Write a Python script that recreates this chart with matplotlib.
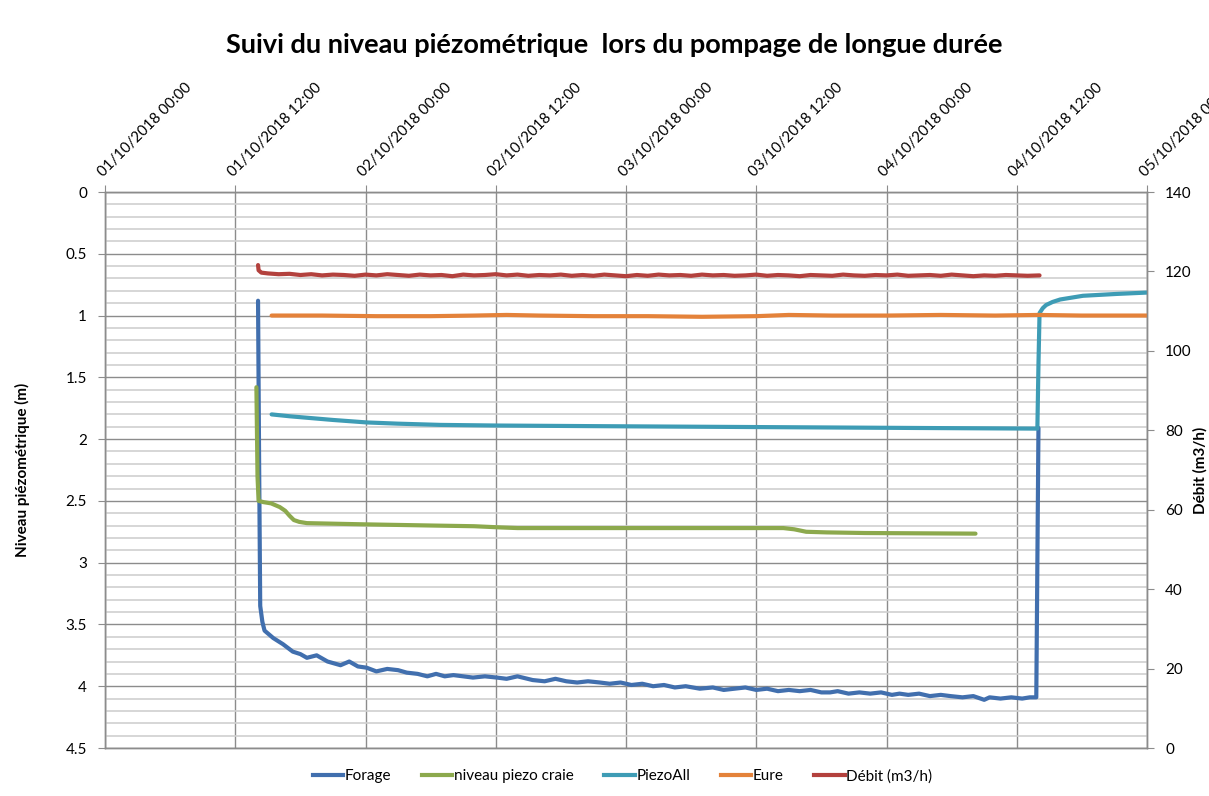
import matplotlib
matplotlib.use("Agg")
import matplotlib.pyplot as plt
from matplotlib.ticker import MultipleLocator, FixedLocator, FixedFormatter
from matplotlib.lines import Line2D

plt.rcParams['font.family'] = ['Lato', 'DejaVu Sans']

# heures depuis le 01/10/2018 00:00
forage_h = [14.1, 14.2, 14.3, 14.5, 14.7, 15.5, 16.4, 17.3, 18.0, 18.6, 19.5, 20.5, 21.7, 22.5,
            23.3, 24.1, 25.0, 26, 27, 27.8, 28.8, 29.7, 30.5, 31.3, 32.1, 33, 33.9, 35, 36.1, 37,
            38, 39.4, 40.5, 41.5, 42.5, 43.5, 44.5, 45.6, 46.5, 47.5, 48.5, 49.5, 50.5, 51.5, 52.5,
            53.5, 54.8, 56, 57, 58, 59, 60, 61, 62, 63, 64, 65, 66, 66.8, 67.5, 68.5, 69.5, 70.5,
            71.5, 72.5, 73.2, 74, 75, 76, 77, 77.9, 79, 80, 81, 81.5, 82.5, 83.5, 84.5, 85.2, 85.8,
            86.0]
forage = [0.88, 2.2, 3.35, 3.48, 3.55, 3.61, 3.66, 3.72, 3.74, 3.77, 3.75, 3.80, 3.83, 3.80,
          3.84, 3.85, 3.88, 3.86, 3.87, 3.89, 3.90, 3.92, 3.90, 3.92, 3.91, 3.92, 3.93, 3.92, 3.93, 3.94,
          3.92, 3.95, 3.96, 3.94, 3.96, 3.97, 3.96, 3.97, 3.98, 3.97, 3.99, 3.98, 4.00, 3.99, 4.01,
          4.00, 4.02, 4.01, 4.03, 4.02, 4.01, 4.03, 4.02, 4.04, 4.03, 4.04, 4.03, 4.05, 4.05, 4.04, 4.06, 4.05, 4.06,
          4.05, 4.07, 4.06, 4.07, 4.06, 4.08, 4.07, 4.08, 4.09, 4.08, 4.11, 4.09, 4.10, 4.09, 4.10, 4.09, 4.09,
          1.91]

craie_h = [13.95, 14.05, 14.15, 14.6, 15.3, 16.1, 16.6, 17.0, 17.4, 17.9, 18.6, 24, 30.5, 34, 36.5,
           38, 50, 62.5, 63.5, 64.6, 66.5, 70, 80.2]
craie = [1.58, 2.3, 2.5, 2.51, 2.52, 2.55, 2.58, 2.62, 2.655, 2.67, 2.68, 2.69, 2.70, 2.705, 2.715,
         2.72, 2.72, 2.72, 2.73, 2.75, 2.755, 2.76, 2.765]

piezoall_h = [15.35, 17, 19, 21, 24.1, 27, 30.9, 36, 45, 55, 65, 75, 85.9, 86.0, 86.1, 86.4,
              86.7, 87.3, 88, 90.1, 93.2, 96]
piezoall = [1.80, 1.815, 1.83, 1.845, 1.865, 1.875, 1.885, 1.89, 1.895, 1.90, 1.905, 1.91, 1.915,
            1.4, 0.98, 0.94, 0.915, 0.89, 0.87, 0.84, 0.825, 0.814]

eure_h = [15.35, 20, 25, 30, 34, 37, 40, 45, 50, 55, 60, 63, 67, 72, 77, 82, 86, 90, 96]
eure = [1.0, 1.0, 1.005, 1.005, 1.0, 0.995, 1.0, 1.005, 1.005, 1.01, 1.005, 0.995, 1.0, 1.0,
        0.995, 1.0, 0.995, 1.0, 1.0]

debit_h = [14.1, 14.15, 14.4, 15, 16, 17, 18, 19, 20, 21, 22, 23, 24, 25, 26, 27, 28, 29, 30, 31,
           32, 33, 34, 35, 36, 37, 38, 39, 40, 41, 42, 43, 44, 45, 46, 47, 48, 49, 50, 51, 52, 53,
           54, 55, 56, 57, 58, 59, 60, 61, 62, 63, 64, 65, 66, 67, 68, 69, 70, 71, 72, 73, 74, 75,
           76, 77, 78, 79, 80, 81, 82, 83, 84, 85, 86.1]
debit = [121.6, 120.3, 119.7, 119.5, 119.3, 119.4, 119.1, 119.3, 119.0, 119.2, 119.1, 118.9, 119.2,
         119.0, 119.3, 119.1, 118.9, 119.2, 119.0, 119.1, 118.8, 119.2, 119.0, 119.1, 119.3, 119.0,
         119.2, 118.9, 119.1, 119.0, 119.2, 118.9, 119.1, 118.9, 119.2, 119.0, 118.8, 119.1, 118.9,
         119.2, 119.0, 119.1, 118.9, 119.2, 119.0, 119.1, 118.9, 119.0, 119.2, 118.9, 119.1, 119.0,
         118.8, 119.1, 119.0, 118.9, 119.2, 119.0, 118.9, 119.1, 119.0, 119.2, 118.9, 119.0, 119.1,
         118.9, 119.2, 119.0, 118.8, 119.0, 118.9, 119.1, 119.0, 118.9, 119.0]

xtick_h = [0, 12, 24, 36, 48, 60, 72, 84, 96]
xtick_labels = ['01/10/2018 00:00', '01/10/2018 12:00', '02/10/2018 00:00', '02/10/2018 12:00',
                '03/10/2018 00:00', '03/10/2018 12:00', '04/10/2018 00:00', '04/10/2018 12:00',
                '05/10/2018 00:00']
yleft_ticks = [0, 0.5, 1, 1.5, 2, 2.5, 3, 3.5, 4, 4.5]
yleft_labels = ['0', '0.5', '1', '1.5', '2', '2.5', '3', '3.5', '4', '4.5']
yright_ticks = [0, 20, 40, 60, 80, 100, 120, 140]

c_forage = '#416FAE'
c_craie = '#8CA94D'
c_piezo = '#3E9CB5'
c_eure = '#E4823A'
c_debit = '#B3413D'
gcol = '#8c8c8c'

fig = plt.figure(figsize=(12.09, 7.96), dpi=100)
ax = fig.add_axes([105 / 1209, 48 / 796, (1147 - 105) / 1209, (748 - 192) / 796])

lw = 3.0
ax.plot(forage_h, forage, color=c_forage, lw=lw, solid_capstyle='round', zorder=3)
ax.plot(craie_h, craie, color=c_craie, lw=lw, solid_capstyle='round', zorder=3)
ax.plot(piezoall_h, piezoall, color=c_piezo, lw=lw, solid_capstyle='round', zorder=3)
ax.plot(eure_h, eure, color=c_eure, lw=lw, solid_capstyle='round', zorder=3)

ax.set_xlim(0, 96)
ax.set_ylim(4.5, 0)
ax.xaxis.tick_top()
ax.xaxis.set_major_locator(FixedLocator(xtick_h))
ax.xaxis.set_major_formatter(FixedFormatter(xtick_labels))
for lab in ax.get_xticklabels():
    lab.set_rotation(45)
    lab.set_ha('left')
    lab.set_va('bottom')
    lab.set_rotation_mode('anchor')
ax.tick_params(axis='x', which='major', direction='out', length=5, color=gcol, labelsize=10.8, pad=4)

ax.yaxis.set_major_locator(FixedLocator(yleft_ticks))
ax.yaxis.set_major_formatter(FixedFormatter(yleft_labels))
ax.yaxis.set_minor_locator(MultipleLocator(0.1))
ax.tick_params(axis='y', which='major', direction='out', length=5, color=gcol, labelsize=11, pad=8)
ax.tick_params(axis='y', which='minor', length=0)

ax.grid(True, axis='x', which='major', color=gcol, lw=1)
ax.grid(True, axis='y', which='major', color=gcol, lw=1)
ax.grid(True, axis='y', which='minor', color='#d0d0d0', lw=1.2)
ax.set_axisbelow(True)
for s in ax.spines.values():
    s.set_color(gcol)
    s.set_linewidth(1)

ax.set_ylabel('Niveau piézométrique (m)', fontsize=11, fontweight='bold')
ax.yaxis.set_label_coords(-0.072, 0.5)

ax2 = ax.twinx()
ax2.plot(debit_h, debit, color=c_debit, lw=lw, solid_capstyle='round', zorder=3)
ax2.set_ylim(0, 140)
ax2.yaxis.set_major_locator(FixedLocator(yright_ticks))
ax2.tick_params(axis='y', direction='out', length=5, color=gcol, labelsize=11, pad=8)
for s in ax2.spines.values():
    s.set_color(gcol)
    s.set_linewidth(1)
ax2.set_ylabel('Débit (m3/h)', fontsize=11, fontweight='bold', rotation=90)
ax2.yaxis.set_label_coords(1.044, 0.5)

fig.text(0.508, 0.943, 'Suivi du niveau piézométrique  lors du pompage de longue durée',
         ha='center', va='center', fontsize=19.5, fontweight='bold')

handles = [Line2D([], [], color=c, lw=lw) for c in (c_forage, c_craie, c_piezo, c_eure, c_debit)]
names = ['Forage', 'niveau piezo craie', 'PiezoAll', 'Eure', 'Débit (m3/h)']
fig.legend(handles, names, loc='center', bbox_to_anchor=(0.515, 0.025), ncol=5, frameon=False,
           fontsize=11, handlelength=2.0, handletextpad=0.1, columnspacing=2.0)

fig.savefig('out.png', dpi=100)
